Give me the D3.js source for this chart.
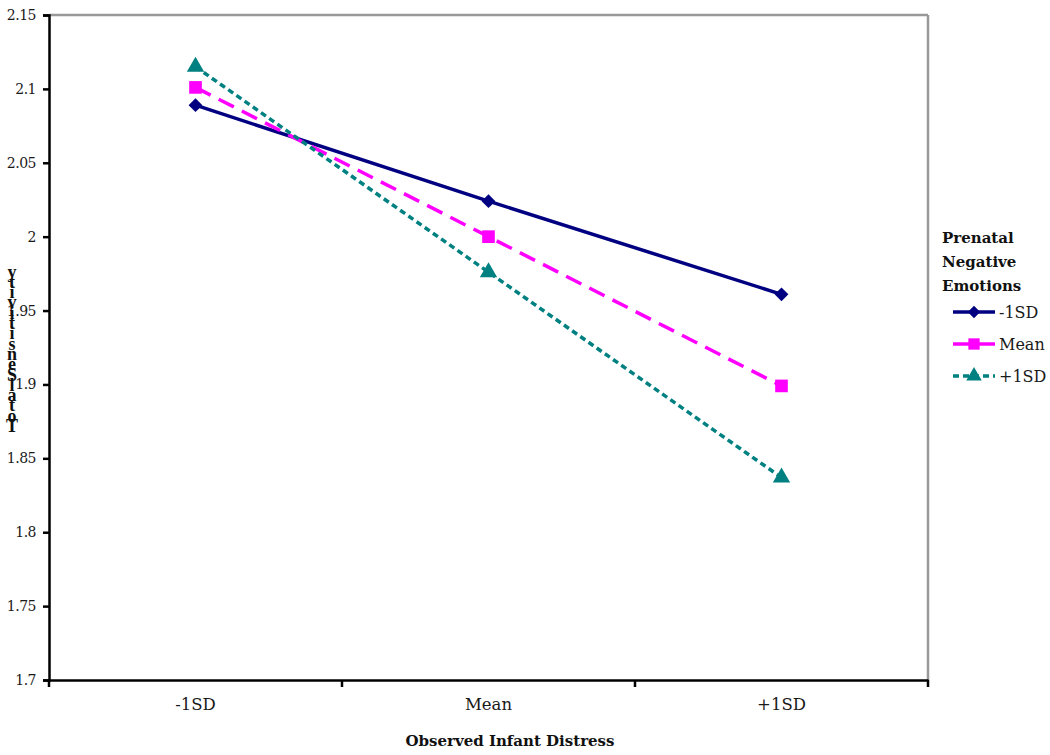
<!DOCTYPE html>
<html><head><meta charset="utf-8">
<script src="https://cdn.jsdelivr.net/npm/d3@7"></script>
<style>body{margin:0;background:#fff}svg{display:block}text{font-family:"DejaVu Serif","Liberation Serif",serif}</style>
</head><body><svg id="c" width="1050" height="755"></svg>
<script>
const categories = ["-1SD", "Mean", "+1SD"];
const seriesNames = ["-1SD", "Mean", "+1SD"];
const seriesLow = [2.089, 2.024, 1.961];
const seriesMean = [2.101, 2.000, 1.899];
const seriesHigh = [2.115, 1.976, 1.837];
const yTicks = [1.7, 1.75, 1.8, 1.85, 1.9, 1.95, 2, 2.05, 2.1, 2.15];
const yTitle = "Total Sensitivity";
const xTitle = "Observed Infant Distress";
const legendTitle = ["Prenatal", "Negative", "Emotions"];

const svg = d3.select("#c");
const L = 49, R = 928, T = 15, B = 680;
const x = d3.scaleBand().domain(categories).range([L, R]);
const y = d3.scaleLinear().domain([1.7, 2.15]).range([B, T]);
const serif = '"DejaVu Serif",serif';

// frame
svg.append("line").attr("x1", L).attr("x2", R).attr("y1", T).attr("y2", T).attr("stroke", "#999").attr("stroke-width", 2.5);
svg.append("line").attr("x1", R).attr("x2", R).attr("y1", T).attr("y2", B).attr("stroke", "#999").attr("stroke-width", 2.5);

// y axis
const ya = svg.append("g").attr("transform", `translate(${L},0)`)
  .call(d3.axisLeft(y).tickValues(yTicks).tickSize(6).tickFormat(d => String(+d.toFixed(2))));
ya.select(".domain").attr("stroke", "#000").attr("stroke-width", 2.5);
ya.selectAll(".tick line").attr("stroke", "#000").attr("stroke-width", 2.5);
ya.selectAll(".tick text").attr("font-size", 14).attr("fill", "#1a1a1a").attr("x", -13)
  .style("font-family", serif).style("letter-spacing", "-0.5px");

// x axis
const xa = svg.append("g").attr("transform", `translate(0,${B})`)
  .call(d3.axisBottom(x).tickSize(0).tickPadding(18));
xa.select(".domain").attr("stroke", "#000").attr("stroke-width", 2.5);
xa.selectAll(".tick text").attr("font-size", 16.5).attr("fill", "#1a1a1a").style("font-family", serif);
const bounds = [L].concat(categories.map(c => x(c) + x.bandwidth()));
svg.selectAll(".xt").data(bounds).enter().append("line")
  .attr("x1", d => d).attr("x2", d => d).attr("y1", B).attr("y2", B + 7)
  .attr("stroke", "#000").attr("stroke-width", 2.5);

const cx = c => x(c) + x.bandwidth() / 2;

const series = [
  {name: seriesNames[0], vals: seriesLow, color: "#000080", dash: null, w: 3.5, shape: d3.symbolSquare, size: 95, rot: 45},
  {name: seriesNames[1], vals: seriesMean, color: "#FF00FF", dash: "17,9", w: 3.5, shape: d3.symbolSquare, size: 160, rot: 0},
  {name: seriesNames[2], vals: seriesHigh, color: "#008080", dash: "6,4", w: 3.5, shape: d3.symbolTriangle, size: 130, rot: 0}
];

const line = d3.line().x((d, i) => cx(categories[i])).y(d => y(d));
series.forEach(s => {
  svg.append("path").attr("d", line(s.vals)).attr("fill", "none").attr("stroke", s.color)
    .attr("stroke-width", s.w).attr("stroke-dasharray", s.dash);
  svg.selectAll(null).data(s.vals).enter().append("path")
    .attr("d", d3.symbol().type(s.shape).size(s.size))
    .attr("transform", (d, i) => `translate(${cx(categories[i])},${y(d)}) rotate(${s.rot})`)
    .attr("fill", s.color);
});

// y title stacked letters (bottom to top)
const chars = Array.from(yTitle.replace(" ", ""));
svg.append("g").selectAll("text").data(chars).enter().append("text")
  .attr("x", 12).attr("y", (d, i) => 432 - i * 10.3)
  .attr("text-anchor", "middle").attr("font-size", 18).attr("font-weight", "bold")
  .style("font-family", '"Liberation Serif",serif').attr("fill", "#111").text(d => d);

// x title
svg.append("text").attr("x", 510).attr("y", 746).attr("text-anchor", "middle")
  .attr("font-size", 15).attr("font-weight", "bold").style("font-family", serif)
  .attr("fill", "#111").text(xTitle);

// legend
svg.append("g").selectAll("text").data(legendTitle).enter().append("text")
  .attr("x", 942).attr("y", (d, i) => 243 + i * 24).attr("font-size", 15).attr("font-weight", "bold")
  .style("font-family", serif).attr("fill", "#111").text(d => d);
series.forEach((s, i) => {
  const ly = 312 + i * 32;
  svg.append("line").attr("x1", 953).attr("x2", 995).attr("y1", ly).attr("y2", ly)
    .attr("stroke", s.color).attr("stroke-width", s.w)
    .attr("stroke-dasharray", i === 2 ? "6,4" : null);
  svg.append("path").attr("d", d3.symbol().type(s.shape).size(s.size * 0.8))
    .attr("transform", `translate(974,${ly}) rotate(${s.rot})`).attr("fill", s.color);
  svg.append("text").attr("x", 999).attr("y", ly + 6).attr("font-size", 16)
    .style("font-family", serif).attr("fill", "#1a1a1a").text(s.name);
});
</script></body></html>
